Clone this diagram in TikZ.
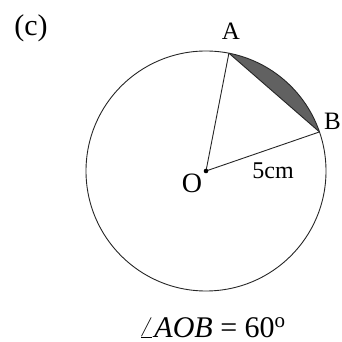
\documentclass[tikz,border=0pt]{standalone}
\usepackage{fontspec}
\setmainfont{Liberation Serif}
\usetikzlibrary{calc}
\begin{document}
\begin{tikzpicture}[x=1pt,y=1pt,
  lbl/.style={inner sep=0pt},
  geom/.style={line width=0.9pt,black!85}]
\useasboundingbox (0,0) rectangle (341,342);
\coordinate (O) at (206,171);
\coordinate (A) at ($(O)+(79:120)$);
\coordinate (B) at ($(O)+(19:120)$);
% shaded segment
\fill[black!62] (B) arc[start angle=19,end angle=79,radius=120] -- cycle;
\draw[geom] (O) circle[radius=120];
\draw[geom] (A) -- (O) -- (B);
\draw[geom] (A) -- (B);
\fill (O) circle[radius=2.3];
\node[lbl,font=\fontsize{30}{32}\selectfont] (c) at (31,314) {(c)};
\node[lbl,font=\fontsize{25}{27}\selectfont] (la) at (231,311) {A};
\node[lbl,font=\fontsize{25}{27}\selectfont,anchor=west] (lb) at (324,221) {B};
\node[lbl,font=\fontsize{28}{30}\selectfont] (lo) at (192,159) {O};
\node[lbl,font=\fontsize{24}{26}\selectfont] (l5) at (273,171) {5cm};
\node[lbl,font=\fontsize{30}{32}\selectfont,anchor=base] (ang) at (212,5) {$\angle$\textit{AOB} = 60$^{\mathrm{o}}$};
\end{tikzpicture}
\end{document}
